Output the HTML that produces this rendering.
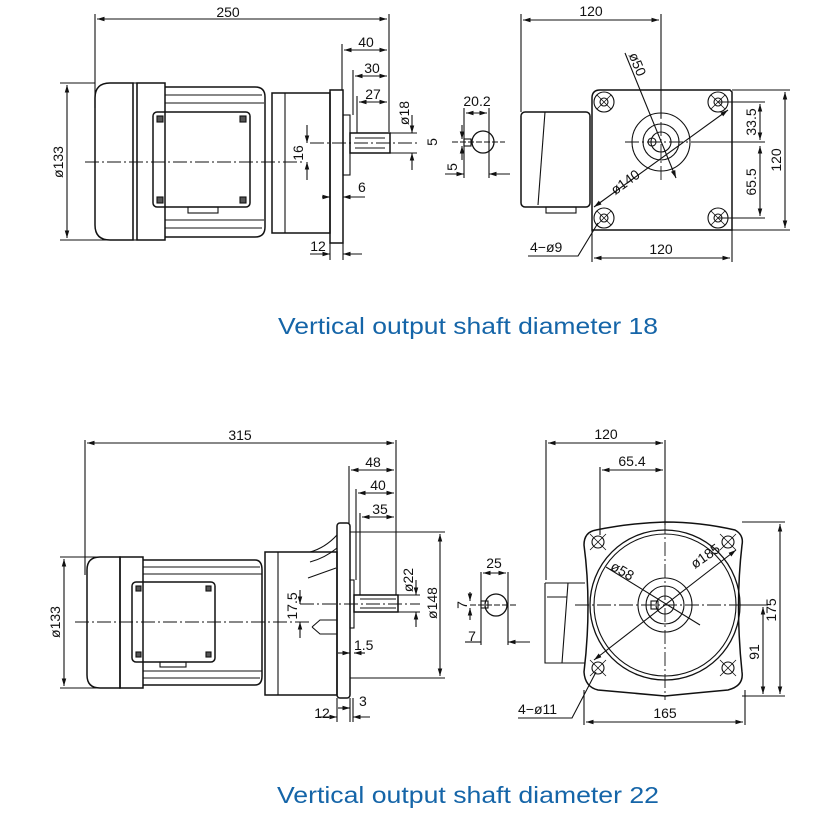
<!DOCTYPE html>
<html><head><meta charset="utf-8"><style>
html,body{margin:0;padding:0;background:#fff;}
svg{display:block;}
text{font-family:"Liberation Sans",sans-serif;fill:#111;}
.d{font-family:"Liberation Sans",sans-serif;font-size:14px;}
.cap{font-size:23px;fill:#1565a8;}
</style></head><body>
<svg width="835" height="829" viewBox="0 0 835 829" xmlns="http://www.w3.org/2000/svg">
<defs>
<marker id="a" viewBox="0 0 10 10" refX="10" refY="5" markerWidth="7" markerHeight="7" orient="auto-start-reverse"><path d="M0,2 L10,5 L0,8 z" fill="#111"/></marker>
</defs>
<g stroke="#111" stroke-width="1.1" fill="none">
<!-- ===== TOP LEFT ===== -->
<line x1="95" y1="14" x2="95" y2="108"/><line x1="389" y1="14" x2="389" y2="132"/>
<line x1="97" y1="19" x2="387" y2="19" marker-start="url(#a)" marker-end="url(#a)"/>
<path d="M110,83 L133,83 L133,240 L110,240 Q95,240 95,225 L95,98 Q95,83 110,83 Z" stroke-width="1.5"/>
<rect x="133" y="83" width="4" height="157"/>
<rect x="137" y="83" width="28" height="157" stroke-width="1.5"/>
<path d="M165,87 L255,87 Q265,87 265,97 L265,227 Q265,237 255,237 L165,237" stroke-width="1.5"/>
<g stroke-width="0.9"><line x1="165" y1="95" x2="262" y2="95"/><line x1="165" y1="103" x2="264" y2="103"/><line x1="165" y1="220" x2="264" y2="220"/><line x1="165" y1="228" x2="262" y2="228"/></g>
<rect x="153" y="112" width="97" height="95" rx="4" stroke-width="1.5"/>
<rect x="188" y="207" width="30" height="6"/>
<g fill="#555"><rect x="157" y="116" width="6" height="6"/><rect x="240" y="116" width="6" height="6"/><rect x="157" y="197" width="6" height="6"/><rect x="240" y="197" width="6" height="6"/></g>
<rect x="272" y="93" width="58" height="140" stroke-width="1.5"/><line x1="285" y1="93" x2="285" y2="233"/>
<rect x="330" y="90" width="13" height="153" stroke-width="1.5"/>
<rect x="343" y="115" width="7" height="60"/>
<rect x="350" y="133" width="40" height="20" stroke-width="1.5"/><line x1="355" y1="138" x2="385" y2="138"/><line x1="355" y1="148" x2="385" y2="148"/>
<g stroke-dasharray="14,3,2,3" stroke-width="0.9"><line x1="85" y1="162" x2="305" y2="162"/><line x1="310" y1="143" x2="420" y2="143"/></g>
<line x1="60" y1="83" x2="95" y2="83"/><line x1="60" y1="240" x2="110" y2="240"/>
<line x1="67" y1="85" x2="67" y2="238" marker-start="url(#a)" marker-end="url(#a)"/>
<line x1="342" y1="44" x2="342" y2="90"/><line x1="353" y1="70" x2="353" y2="115"/><line x1="357" y1="96" x2="357" y2="133"/>
<line x1="344" y1="50" x2="387" y2="50" marker-start="url(#a)" marker-end="url(#a)"/>
<line x1="355" y1="76" x2="387" y2="76" marker-start="url(#a)" marker-end="url(#a)"/>
<line x1="359" y1="102" x2="387" y2="102" marker-start="url(#a)" marker-end="url(#a)"/>
<line x1="390" y1="133" x2="417" y2="133"/><line x1="390" y1="153" x2="417" y2="153"/>
<line x1="412" y1="115" x2="412" y2="133" marker-end="url(#a)"/><line x1="412" y1="170" x2="412" y2="153" marker-end="url(#a)"/>
<line x1="307" y1="125" x2="307" y2="143" marker-end="url(#a)"/><line x1="307" y1="180" x2="307" y2="162" marker-end="url(#a)"/>
<line x1="322" y1="197" x2="330" y2="197" marker-end="url(#a)"/><line x1="365" y1="197" x2="343" y2="197" marker-end="url(#a)"/>
<line x1="330" y1="243" x2="330" y2="260"/><line x1="343" y1="243" x2="343" y2="260"/>
<line x1="310" y1="254" x2="330" y2="254" marker-end="url(#a)"/><line x1="362" y1="254" x2="343" y2="254" marker-end="url(#a)"/>
<circle cx="483" cy="142" r="11" stroke-width="1.3"/><rect x="464" y="139" width="7" height="7"/>
<line x1="464" y1="108" x2="464" y2="178"/><line x1="489" y1="108" x2="489" y2="178"/>
<line x1="466" y1="113" x2="487" y2="113" marker-start="url(#a)" marker-end="url(#a)"/>
<line x1="462" y1="125" x2="462" y2="139" marker-end="url(#a)"/><line x1="462" y1="160" x2="462" y2="146" marker-end="url(#a)"/>
<line x1="445" y1="174" x2="464" y2="174" marker-end="url(#a)"/><line x1="510" y1="174" x2="489" y2="174" marker-end="url(#a)"/>
<line x1="452" y1="142" x2="505" y2="142" stroke-dasharray="6,2"/>
<!-- ===== TOP RIGHT ===== -->
<line x1="521" y1="14" x2="521" y2="112"/><line x1="661" y1="14" x2="661" y2="118"/>
<line x1="523" y1="20" x2="659" y2="20" marker-start="url(#a)" marker-end="url(#a)"/>
<path d="M600,90 L730,90 L732,92 L732,230 L592,230 L592,98 Q592,90 600,90 Z" stroke-width="1.5"/>
<rect x="521" y="112" width="69" height="95" rx="4" stroke-width="1.5"/>
<line x1="545" y1="112" x2="538" y2="205"/><rect x="546" y="207" width="30" height="6"/>
<g stroke-width="1.1"><circle cx="604" cy="102" r="10"/><circle cx="718" cy="102" r="10"/><circle cx="604" cy="218" r="10"/><circle cx="718" cy="218" r="10"/>
<circle cx="604" cy="102" r="4"/><circle cx="718" cy="102" r="4"/><circle cx="604" cy="218" r="4"/><circle cx="718" cy="218" r="4"/></g>
<g stroke-width="0.8"><path d="M597,95 L611,109 M611,95 L597,109 M711,95 L725,109 M725,95 L711,109 M597,211 L611,225 M611,211 L597,225 M711,211 L725,225 M725,211 L711,225"/></g>
<circle cx="661" cy="142" r="29"/><circle cx="661" cy="142" r="18"/><circle cx="661" cy="142" r="10"/><circle cx="652" cy="142" r="4"/>
<g stroke-dasharray="14,3,2,3" stroke-width="0.9"><line x1="625" y1="142" x2="700" y2="142"/><line x1="661" y1="100" x2="661" y2="180"/></g>
<line x1="625" y1="53" x2="676" y2="178" marker-end="url(#a)"/>
<line x1="594" y1="207" x2="728" y2="110" marker-start="url(#a)" marker-end="url(#a)"/>
<line x1="718" y1="102" x2="765" y2="102"/><line x1="700" y1="142" x2="765" y2="142"/><line x1="718" y1="218" x2="765" y2="218"/>
<line x1="732" y1="90" x2="790" y2="90"/><line x1="732" y1="230" x2="790" y2="230"/>
<line x1="760" y1="104" x2="760" y2="140" marker-start="url(#a)" marker-end="url(#a)"/>
<line x1="760" y1="146" x2="760" y2="216" marker-start="url(#a)" marker-end="url(#a)"/>
<line x1="785" y1="92" x2="785" y2="228" marker-start="url(#a)" marker-end="url(#a)"/>
<line x1="592" y1="230" x2="592" y2="262"/><line x1="732" y1="230" x2="732" y2="262"/>
<line x1="594" y1="258" x2="730" y2="258" marker-start="url(#a)" marker-end="url(#a)"/>
<polyline points="528,256 578,256 598,223"/>
<!-- ===== BOTTOM LEFT ===== -->
<line x1="85" y1="440" x2="85" y2="575"/><line x1="396" y1="440" x2="396" y2="595"/>
<line x1="87" y1="443" x2="394" y2="443" marker-start="url(#a)" marker-end="url(#a)"/>
<path d="M100,557 L120,557 L120,688 L100,688 Q87,688 87,675 L87,570 Q87,557 100,557 Z" stroke-width="1.5"/>
<rect x="120" y="557" width="23" height="131" stroke-width="1.5"/>
<path d="M143,560 L255,560 Q262,560 262,570 L262,676 Q262,685 255,685 L143,685" stroke-width="1.5"/>
<g stroke-width="0.9"><line x1="143" y1="567" x2="260" y2="567"/><line x1="143" y1="574" x2="262" y2="574"/><line x1="143" y1="671" x2="262" y2="671"/><line x1="143" y1="678" x2="260" y2="678"/></g>
<rect x="132" y="582" width="83" height="80" rx="4" stroke-width="1.5"/><rect x="160" y="662" width="26" height="5"/>
<g fill="#555"><rect x="136" y="586" width="5" height="5"/><rect x="206" y="586" width="5" height="5"/><rect x="136" y="652" width="5" height="5"/><rect x="206" y="652" width="5" height="5"/></g>
<rect x="265" y="552" width="72" height="143" stroke-width="1.5"/><line x1="278" y1="552" x2="278" y2="695"/>
<rect x="337" y="523" width="13" height="175" rx="3" stroke-width="1.5"/>
<path d="M310,552 Q325,548 337,535 M310,562 Q325,558 337,548 M308,578 L336,568"/>
<rect x="350" y="580" width="4" height="48"/>
<rect x="354" y="595" width="44" height="17" stroke-width="1.5"/><line x1="360" y1="599" x2="396" y2="599"/><line x1="360" y1="608" x2="396" y2="608"/>
<path d="M312,627 L320,620 L337,620 M312,627 L320,634 L337,634"/>
<g stroke-dasharray="14,3,2,3" stroke-width="0.9"><line x1="75" y1="622" x2="310" y2="622"/><line x1="300" y1="604" x2="420" y2="604"/></g>
<line x1="350" y1="532" x2="445" y2="532"/><line x1="350" y1="678" x2="445" y2="678"/>
<line x1="440" y1="534" x2="440" y2="676" marker-start="url(#a)" marker-end="url(#a)"/>
<line x1="60" y1="557" x2="100" y2="557"/><line x1="60" y1="688" x2="100" y2="688"/>
<line x1="64" y1="559" x2="64" y2="686" marker-start="url(#a)" marker-end="url(#a)"/>
<line x1="349" y1="466" x2="349" y2="523"/><line x1="356" y1="489" x2="356" y2="580"/><line x1="360" y1="513" x2="360" y2="595"/>
<line x1="351" y1="470" x2="394" y2="470" marker-start="url(#a)" marker-end="url(#a)"/>
<line x1="358" y1="493" x2="394" y2="493" marker-start="url(#a)" marker-end="url(#a)"/>
<line x1="362" y1="517" x2="394" y2="517" marker-start="url(#a)" marker-end="url(#a)"/>
<line x1="398" y1="595" x2="420" y2="595"/><line x1="398" y1="612" x2="420" y2="612"/>
<line x1="416" y1="580" x2="416" y2="595" marker-end="url(#a)"/><line x1="416" y1="627" x2="416" y2="612" marker-end="url(#a)"/>
<line x1="300" y1="590" x2="300" y2="604" marker-end="url(#a)"/><line x1="300" y1="638" x2="300" y2="622" marker-end="url(#a)"/>
<line x1="338" y1="653" x2="350" y2="653" marker-end="url(#a)"/><line x1="365" y1="653" x2="354" y2="653" marker-end="url(#a)"/>
<line x1="337" y1="698" x2="337" y2="722"/><line x1="350" y1="698" x2="350" y2="722"/><line x1="353" y1="698" x2="353" y2="722"/>
<line x1="318" y1="717" x2="337" y2="717" marker-end="url(#a)"/><line x1="370" y1="717" x2="353" y2="717" marker-end="url(#a)"/>
<line x1="338" y1="708" x2="350" y2="708" marker-end="url(#a)"/>
<circle cx="496" cy="605" r="11" stroke-width="1.3"/><rect x="481" y="601" width="7" height="7"/>
<line x1="481" y1="572" x2="481" y2="645"/><line x1="508" y1="572" x2="508" y2="645"/>
<line x1="483" y1="573" x2="506" y2="573" marker-start="url(#a)" marker-end="url(#a)"/>
<line x1="470" y1="592" x2="470" y2="601" marker-end="url(#a)"/><line x1="470" y1="620" x2="470" y2="608" marker-end="url(#a)"/>
<line x1="465" y1="642" x2="481" y2="642"/><line x1="530" y1="642" x2="508" y2="642" marker-end="url(#a)"/>
<line x1="470" y1="605" x2="518" y2="605" stroke-dasharray="6,2"/>
<!-- ===== BOTTOM RIGHT ===== -->
<line x1="546" y1="440" x2="546" y2="580"/><line x1="665" y1="440" x2="665" y2="525"/><line x1="600" y1="467" x2="600" y2="535"/>
<line x1="548" y1="443" x2="663" y2="443" marker-start="url(#a)" marker-end="url(#a)"/>
<line x1="602" y1="470" x2="663" y2="470" marker-start="url(#a)" marker-end="url(#a)"/>
<path d="M596,530 Q630,523 665,522 Q700,522 735,530 Q744,535 742,545 Q735,605 742,672 Q744,686 728,690 Q695,693 665,696 Q630,693 598,690 Q585,687 584,672 Q592,605 584,545 Q584,532 596,530 Z" stroke-width="1.5"/>
<path d="M545,583 L585,583 M545,583 L545,663 L585,663 M568,583 L562,663 M547,597 L567,597"/>
<circle cx="665" cy="605" r="75" stroke-width="1.3"/><circle cx="665" cy="605" r="71"/>
<circle cx="665" cy="605" r="27"/><circle cx="665" cy="605" r="19"/><circle cx="665" cy="605" r="9"/><rect x="651" y="601" width="7" height="8"/>
<g stroke-width="1.1"><circle cx="598" cy="542" r="6"/><circle cx="728" cy="542" r="6"/><circle cx="598" cy="668" r="6"/><circle cx="728" cy="668" r="6"/></g>
<g stroke-width="0.8"><path d="M590,534 L606,550 M606,534 L590,550 M720,534 L736,550 M736,534 L720,550 M590,660 L606,676 M606,660 L590,676 M720,660 L736,676 M736,660 L720,676"/></g>
<g stroke-dasharray="14,3,2,3" stroke-width="0.9"><line x1="575" y1="605" x2="750" y2="605"/><line x1="665" y1="520" x2="665" y2="700"/></g>
<line x1="606" y1="567" x2="700" y2="625"/>
<line x1="594" y1="660" x2="736" y2="550" marker-start="url(#a)" marker-end="url(#a)"/>
<line x1="742" y1="522" x2="785" y2="522"/><line x1="742" y1="696" x2="785" y2="696"/>
<line x1="740" y1="605" x2="768" y2="605"/>
<line x1="780" y1="524" x2="780" y2="694" marker-start="url(#a)" marker-end="url(#a)"/>
<line x1="763" y1="607" x2="763" y2="694" marker-start="url(#a)" marker-end="url(#a)"/>
<line x1="584" y1="690" x2="584" y2="725"/><line x1="745" y1="690" x2="745" y2="725"/>
<line x1="586" y1="722" x2="743" y2="722" marker-start="url(#a)" marker-end="url(#a)"/>
<polyline points="518,718 572,718 596,672"/>
</g>
<!-- texts -->
<g class="d">
<text x="228" y="17" text-anchor="middle">250</text>
<text x="366" y="47" text-anchor="middle">40</text>
<text x="372" y="73" text-anchor="middle">30</text>
<text x="373" y="99" text-anchor="middle">27</text>
<text transform="translate(409,113) rotate(-90)" text-anchor="middle">ø18</text>
<text transform="translate(303,153) rotate(-90)" text-anchor="middle">16</text>
<text transform="translate(63,162) rotate(-90)" text-anchor="middle">ø133</text>
<text x="358" y="192">6</text>
<text x="318" y="251" text-anchor="middle">12</text>
<text x="477" y="106" text-anchor="middle">20.2</text>
<text transform="translate(437,142) rotate(-90)" text-anchor="middle">5</text>
<text transform="translate(457,167) rotate(-90)" text-anchor="middle">5</text>
<text x="591" y="16" text-anchor="middle">120</text>
<text transform="translate(633,66) rotate(68)" text-anchor="middle">ø50</text>
<text transform="translate(628,186) rotate(-36)" text-anchor="middle">ø140</text>
<text transform="translate(756,122) rotate(-90)" text-anchor="middle">33.5</text>
<text transform="translate(756,182) rotate(-90)" text-anchor="middle">65.5</text>
<text transform="translate(781,160) rotate(-90)" text-anchor="middle">120</text>
<text x="661" y="254" text-anchor="middle">120</text>
<text x="530" y="252">4−ø9</text>
<text x="240" y="440" text-anchor="middle">315</text>
<text x="373" y="467" text-anchor="middle">48</text>
<text x="378" y="490" text-anchor="middle">40</text>
<text x="380" y="514" text-anchor="middle">35</text>
<text transform="translate(413,580) rotate(-90)" text-anchor="middle">ø22</text>
<text transform="translate(297,606) rotate(-90)" text-anchor="middle">17.5</text>
<text transform="translate(437,603) rotate(-90)" text-anchor="middle">ø148</text>
<text transform="translate(60,622) rotate(-90)" text-anchor="middle">ø133</text>
<text x="354" y="650">1.5</text>
<text x="359" y="706">3</text>
<text x="322" y="718" text-anchor="middle">12</text>
<text x="494" y="568" text-anchor="middle">25</text>
<text transform="translate(467,605) rotate(-90)" text-anchor="middle">7</text>
<text x="472" y="641" text-anchor="middle">7</text>
<text x="606" y="439" text-anchor="middle">120</text>
<text x="632" y="466" text-anchor="middle">65.4</text>
<text transform="translate(620,575) rotate(30)" text-anchor="middle">ø58</text>
<text transform="translate(708,560) rotate(-35)" text-anchor="middle">ø185</text>
<text transform="translate(776,610) rotate(-90)" text-anchor="middle">175</text>
<text transform="translate(759,652) rotate(-90)" text-anchor="middle">91</text>
<text x="665" y="718" text-anchor="middle">165</text>
<text x="518" y="714">4−ø11</text>
</g>
<text class="cap" x="278" y="334" textLength="380" lengthAdjust="spacingAndGlyphs">Vertical output shaft diameter 18</text>
<text class="cap" x="277" y="803" textLength="382" lengthAdjust="spacingAndGlyphs">Vertical output shaft diameter 22</text>
</svg>
</body></html>
